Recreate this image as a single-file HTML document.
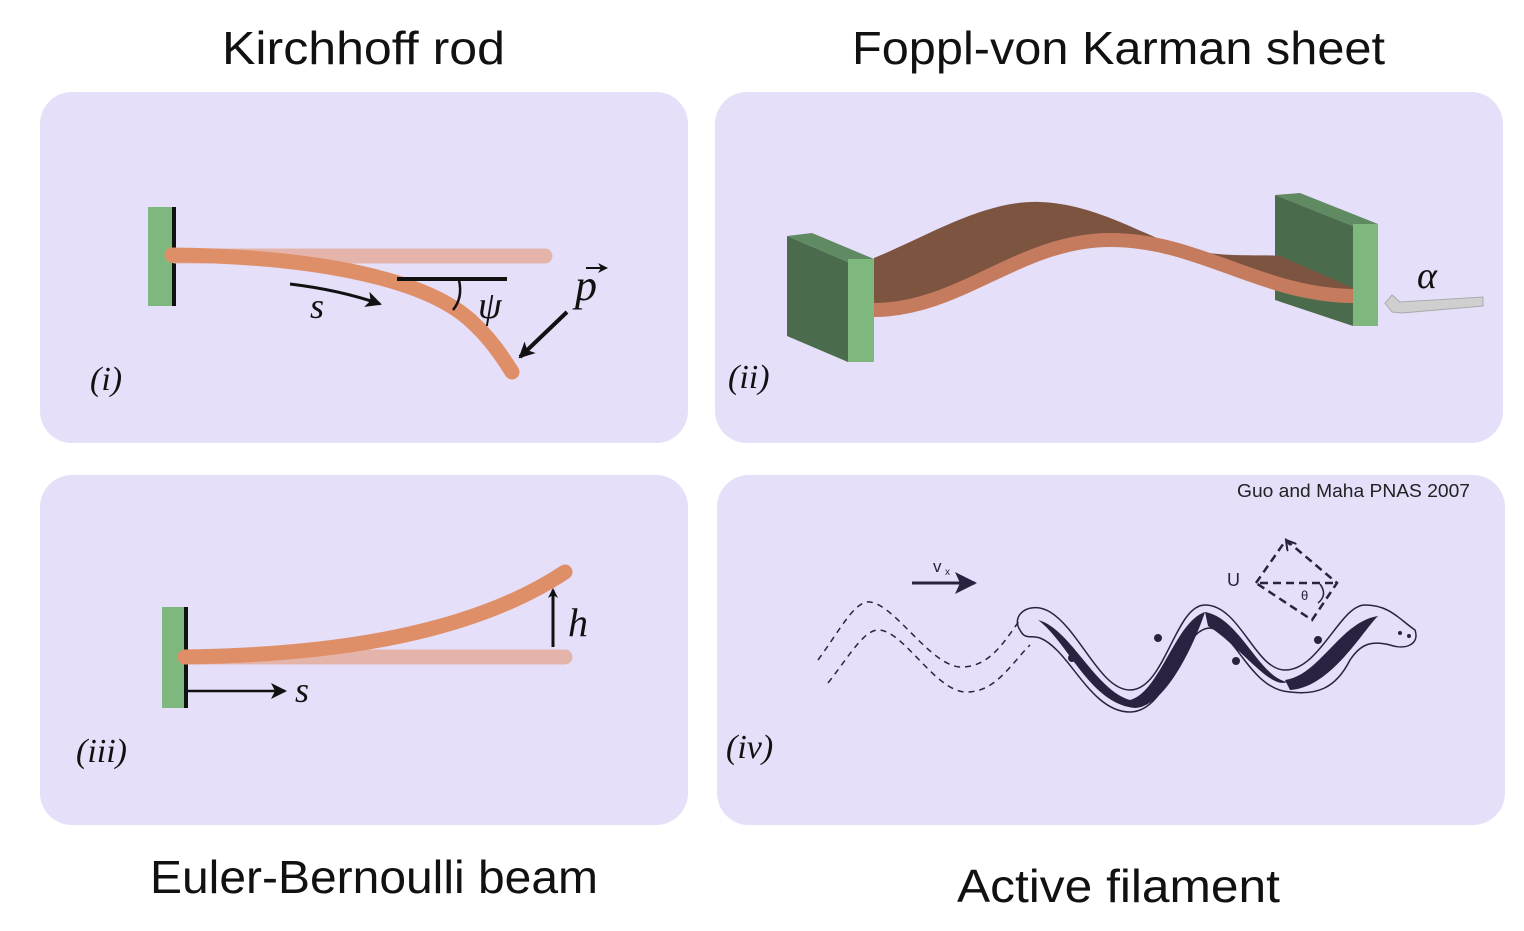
<!DOCTYPE html>
<html><head><meta charset="utf-8"><style>
html,body{margin:0;padding:0;background:#fff}
svg{display:block}
.t{font-family:"Liberation Sans",sans-serif;font-size:46px;fill:#111;font-weight:300}
.m{font-family:"Liberation Serif",serif;font-style:italic;fill:#111}
</style></head><body>
<svg width="1524" height="931" viewBox="0 0 1524 931" xmlns="http://www.w3.org/2000/svg">
<defs>
<marker id="ah" markerWidth="10" markerHeight="10" refX="8" refY="5" orient="auto" markerUnits="userSpaceOnUse"><path d="M0,0 L10,5 L0,10 L3,5z" fill="#111"/></marker>
<marker id="ah2" markerWidth="16" markerHeight="16" refX="14" refY="8" orient="auto" markerUnits="userSpaceOnUse"><path d="M0,0 L16,8 L0,16 L4,8z" fill="#111"/></marker>
<marker id="ah3" markerWidth="22" markerHeight="22" refX="20" refY="11" orient="auto" markerUnits="userSpaceOnUse"><path d="M0,0 L22,11 L0,22 L5,11z" fill="#2a2240"/></marker>
<marker id="oa" markerWidth="12" markerHeight="12" refX="10" refY="6" orient="auto" markerUnits="userSpaceOnUse"><path d="M0,0 L10,6 L0,12" fill="none" stroke="#2a2240" stroke-width="2"/></marker>
</defs>
<rect width="1524" height="931" fill="#fff"/>
<text class="t" x="222" y="64" textLength="283" lengthAdjust="spacingAndGlyphs">Kirchhoff rod</text>
<text class="t" x="852" y="64" textLength="533" lengthAdjust="spacingAndGlyphs">Foppl-von Karman sheet</text>
<text class="t" x="150" y="893" textLength="448" lengthAdjust="spacingAndGlyphs">Euler-Bernoulli beam</text>
<text class="t" x="957" y="902" textLength="323" lengthAdjust="spacingAndGlyphs">Active filament</text>

<rect x="40" y="92" width="648" height="351" rx="32" fill="#e5dff9"/>
<rect x="715" y="92" width="788" height="351" rx="32" fill="#e5dff9"/>
<rect x="40" y="475" width="648" height="350" rx="32" fill="#e5dff9"/>
<rect x="717" y="475" width="788" height="350" rx="32" fill="#e5dff9"/>

<!-- panel i -->
<rect x="148" y="207" width="27" height="99" fill="#7fb87f"/>
<line x1="174" y1="207" x2="174" y2="306" stroke="#111" stroke-width="4"/>
<line x1="175" y1="256" x2="545" y2="256" stroke="#e4b4ab" stroke-width="15" stroke-linecap="round"/>
<path d="M172,255 C300,256 420,275 470,320 C490,338 502,356 512,372" fill="none" stroke="#df8f68" stroke-width="15" stroke-linecap="round"/>
<path d="M290,284 Q340,290 380,304" fill="none" stroke="#111" stroke-width="3" marker-end="url(#ah2)"/>
<text class="m" x="310" y="318" font-size="36">s</text>
<line x1="397" y1="279" x2="507" y2="279" stroke="#111" stroke-width="4"/>
<path d="M459,280 Q463,298 453,310" fill="none" stroke="#111" stroke-width="2.5"/>
<text class="m" x="478" y="318" font-size="38">ψ</text>
<text class="m" x="575" y="300" font-size="44">p</text>
<path d="M586,268 L606,268" stroke="#111" stroke-width="2" marker-end="url(#ah)"/>
<line x1="567" y1="312" x2="520" y2="357" stroke="#111" stroke-width="4" marker-end="url(#ah2)"/>
<text class="m" x="90" y="390" font-size="34">(i)</text>

<!-- panel ii -->
<polygon points="787,236 848,262 848,362 787,336" fill="#4b6b4d"/>
<polygon points="787,236 812,233 874,259 848,262" fill="#5f8a62"/>
<polygon points="1275,195 1300,193 1378,224 1353,226" fill="#5f8a62"/>
<polygon points="1275,195 1353,226 1353,326 1275,300" fill="#4b6b4d"/>
<path d="M874,258 C930,235 985,200 1040,202 C1100,204 1150,240 1190,250 C1230,258 1260,254 1280,256 L1353,288 L1353,297 C1260,295 1200,240 1110,240 C1020,240 960,310 874,310 Z" fill="#7d5440"/>
<path d="M874,310 C960,310 1020,240 1110,240 C1200,240 1260,295 1353,296" fill="none" stroke="#c57c5e" stroke-width="14" stroke-linecap="round"/>
<rect x="848" y="259" width="26" height="103" fill="#7fb87f"/>
<rect x="1353" y="224" width="25" height="102" fill="#7fb87f"/>
<polygon points="1400,302 1483,297 1483,306 1402,313 1392,312 1385,303 1392,295" fill="#cfcfcf" stroke="#aaa" stroke-width="1"/>
<text class="m" x="1417" y="288" font-size="38">α</text>
<text class="m" x="728" y="388" font-size="34">(ii)</text>

<!-- panel iii -->
<rect x="162" y="607" width="25" height="101" fill="#7fb87f"/>
<line x1="186" y1="607" x2="186" y2="708" stroke="#111" stroke-width="4"/>
<line x1="187" y1="657" x2="565" y2="657" stroke="#e4b4ab" stroke-width="15" stroke-linecap="round"/>
<path d="M185,657 C330,655 470,635 565,572" fill="none" stroke="#df8f68" stroke-width="15" stroke-linecap="round"/>
<line x1="553" y1="647" x2="553" y2="590" stroke="#111" stroke-width="3" marker-end="url(#ah)"/>
<text class="m" x="568" y="636" font-size="40">h</text>
<line x1="187" y1="691" x2="285" y2="691" stroke="#111" stroke-width="2.5" marker-end="url(#ah2)"/>
<text class="m" x="295" y="702" font-size="36">s</text>
<text class="m" x="76" y="762" font-size="34">(iii)</text>

<!-- panel iv -->
<text x="1237" y="497" textLength="233" lengthAdjust="spacingAndGlyphs" font-family="Liberation Sans,sans-serif" font-size="18" fill="#222">Guo and Maha PNAS 2007</text>
<text x="933" y="572" font-family="Liberation Sans,sans-serif" font-size="17" fill="#2a2240">v</text>
<text x="945" y="575" font-family="Liberation Sans,sans-serif" font-size="10" fill="#2a2240">x</text>
<line x1="912" y1="583" x2="975" y2="583" stroke="#2a2240" stroke-width="3" marker-end="url(#ah3)"/>
<g fill="none" stroke="#2a2240" stroke-width="1.5" stroke-dasharray="6,5">
<path d="M818,660 C840,630 855,600 870,602 C895,605 930,665 960,667 C990,668 1005,640 1020,620"/>
<path d="M828,683 C850,655 865,628 880,630 C905,633 935,690 965,692 C995,693 1010,665 1030,645"/>
</g>
<g fill="none" stroke="#2a2240" stroke-width="1.5">
<path d="M1020,630 C1010,615 1030,600 1050,612 C1080,630 1100,690 1130,690 C1165,690 1175,605 1205,605 C1240,605 1255,670 1285,670 C1320,670 1340,605 1365,605 C1390,605 1400,620 1415,630 C1420,645 1405,650 1390,645 C1370,640 1360,645 1350,660 C1335,690 1315,695 1290,692 C1250,690 1235,630 1210,628 C1180,628 1170,712 1130,712 C1090,712 1070,650 1040,638 C1030,635 1025,640 1020,630"/>
</g>
<path d="M1038,620 C1070,628 1095,690 1130,700 C1160,692 1175,622 1205,612 C1200,628 1170,706 1135,708 C1090,704 1068,642 1038,620Z" fill="#2a2240"/>
<path d="M1205,612 C1240,618 1258,676 1287,682 C1270,690 1238,644 1208,626Z" fill="#2a2240"/>
<path d="M1285,680 C1320,675 1340,622 1378,616 C1362,632 1330,688 1290,690Z" fill="#2a2240"/>
<circle cx="1158" cy="638" r="4" fill="#2a2240"/><circle cx="1072" cy="658" r="4" fill="#2a2240"/>
<circle cx="1236" cy="661" r="4" fill="#2a2240"/><circle cx="1318" cy="640" r="4" fill="#2a2240"/>
<circle cx="1400" cy="633" r="2" fill="#2a2240"/><circle cx="1409" cy="636" r="2" fill="#2a2240"/>
<g fill="none" stroke="#2a2240" stroke-width="2.5" stroke-dasharray="8,5">
<path d="M1256,583 L1286,540 L1337,583 L1312,620 Z"/>
<line x1="1260" y1="583" x2="1337" y2="583"/>
</g>
<line x1="1290" y1="545" x2="1286" y2="540" stroke="#2a2240" stroke-width="2" marker-end="url(#oa)"/>
<path d="M1320,584 Q1328,595 1318,603" fill="none" stroke="#2a2240" stroke-width="1.5"/>
<text x="1301" y="600" font-family="Liberation Sans,sans-serif" font-size="13" fill="#2a2240">θ</text>
<text x="1227" y="586" font-family="Liberation Sans,sans-serif" font-size="18" fill="#2a2240">U</text>
<text class="m" x="726" y="758" font-size="34">(iv)</text>
</svg>
</body></html>
